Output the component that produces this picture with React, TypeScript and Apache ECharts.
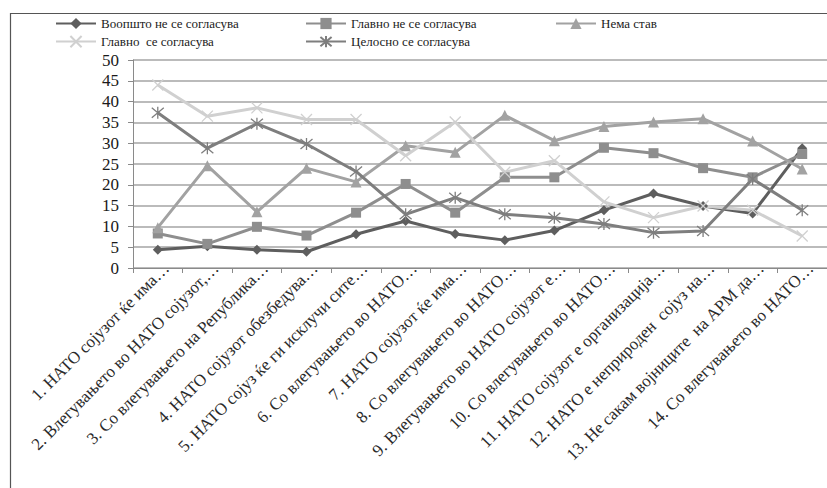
import React, { useEffect, useRef } from "react";
import * as echarts from "echarts";

const categories = [
  "1. НАТО сојузот ќе има…",
  "2. Влегувањето во НАТО сојузот,…",
  "3. Со влегувањето на Република…",
  "4. НАТО сојузот обезбедува…",
  "5. НАТО сојуз ќе ги исклучи сите…",
  "6. Со влегувањето во НАТО…",
  "7. НАТО сојузот ќе има…",
  "8. Со влегувањето во НАТО…",
  "9. Влегувањето во НАТО сојузот е…",
  "10. Со влегувањето во НАТО…",
  "11. НАТО сојузот е организација…",
  "12. НАТО е неприроден  сојуз на…",
  "13. Не сакам војниците  на АРМ да…",
  "14. Со влегувањето во НАТО…",
];

const seriesNames = [
  "Воопшто не се согласува",
  "Главно не се согласува",
  "Нема став",
  "Главно  се согласува",
  "Целосно се согласува",
];

const voopsto = [4.4, 5.2, 4.4, 3.9, 8.1, 11.3, 8.2, 6.7, 9.0, 13.9, 17.9, 14.9, 13.1, 28.8];
const glavnoNe = [8.3, 5.8, 9.9, 7.8, 13.3, 20.2, 13.3, 21.8, 21.8, 28.9, 27.6, 24.0, 21.8, 27.4];
const nemaStav = [9.7, 24.6, 13.5, 24.0, 20.7, 29.4, 27.8, 36.7, 30.6, 34.0, 35.1, 35.9, 30.5, 23.8];
const glavnoSe = [44.0, 36.5, 38.5, 35.7, 35.7, 27.0, 35.1, 23.0, 25.8, 15.9, 12.1, 14.9, 13.9, 7.7];
const celosno = [37.3, 28.8, 34.7, 29.8, 23.2, 12.9, 16.9, 12.9, 12.1, 10.6, 8.5, 8.9, 21.4, 13.9];

const yTicks = { min: 0, max: 50, interval: 5 };

const FONT = "'Liberation Serif', 'Times New Roman', Times, serif";

const colors = ["#5e5e5e", "#8e8e8e", "#a2a2a2", "#d0d0d0", "#7e7e7e"];
const symbols = [
  "diamond",
  "rect",
  "triangle",
  "path://M0,0L10,10M10,0L0,10",
  "path://M0,0L10,10M10,0L0,10M5,-1L5,11",
];
const symbolSizes = [10, 10, 11, 11, 12];

export default function App() {
  const ref = useRef<HTMLDivElement>(null);
  useEffect(() => {
    if (!ref.current) return;
    const chart = echarts.init(ref.current, null, { renderer: "svg" });
    const data = [voopsto, glavnoNe, nemaStav, glavnoSe, celosno];
    const legendPos = [
      { left: 55, top: 17 },
      { left: 305, top: 17 },
      { left: 555, top: 17 },
      { left: 55, top: 35 },
      { left: 305, top: 35 },
    ];
    chart.setOption({
      animation: false,
      backgroundColor: "#ffffff",
      textStyle: { fontFamily: FONT },
      graphic: [
        {
          type: "rect",
          left: 8,
          top: 11,
          shape: { width: 840, height: 500 },
          style: { fill: "none", stroke: "#555555", lineWidth: 1.2 },
          silent: true,
          z: -10,
        },
      ],
      legend: legendPos.map((p, i) => ({
        data: [seriesNames[i]],
        left: p.left,
        top: p.top,
        padding: 0,
        itemWidth: 40,
        itemHeight: 14,
        textStyle: { fontFamily: FONT, fontSize: 13, color: "#1a1a1a" },
        selectedMode: false,
      })),
      grid: { left: 133, right: 0, top: 60, bottom: 220, containLabel: false },
      xAxis: {
        type: "category",
        data: categories,
        boundaryGap: true,
        axisLine: { show: true, lineStyle: { color: "#8a8a8a", width: 1 } },
        axisTick: { show: true, length: 5, lineStyle: { color: "#8a8a8a" } },
        axisLabel: {
          interval: 0,
          rotate: 45,
          margin: 6,
          fontFamily: FONT,
          fontSize: 17,
          color: "#2a2a2a",
          padding: [6, -12, 0, 0],
        },
        splitLine: { show: false },
      },
      yAxis: {
        type: "value",
        min: yTicks.min,
        max: yTicks.max,
        interval: yTicks.interval,
        axisLine: { show: true, lineStyle: { color: "#8a8a8a", width: 1 } },
        axisTick: { show: true, length: 5, lineStyle: { color: "#8a8a8a" } },
        axisLabel: { fontFamily: FONT, fontSize: 17, color: "#1a1a1a", margin: 14 },
        splitLine: { show: true, lineStyle: { color: "#a4a4a4", width: 1.5 } },
      },
      series: data.map((d, i) => ({
        name: seriesNames[i],
        type: "line",
        data: d,
        symbol: symbols[i],
        symbolSize: symbolSizes[i],
        showAllSymbol: true,
        lineStyle: { color: colors[i], width: 3 },
        itemStyle: { color: colors[i], borderColor: colors[i], borderWidth: i >= 3 ? 1.3 : 0 },
        emphasis: { disabled: true },
      })),
    });
    return () => chart.dispose();
  }, []);
  return (
    <div
      ref={ref}
      style={{ position: "absolute", left: 0, top: 0, width: 827, height: 488 }}
    />
  );
}
